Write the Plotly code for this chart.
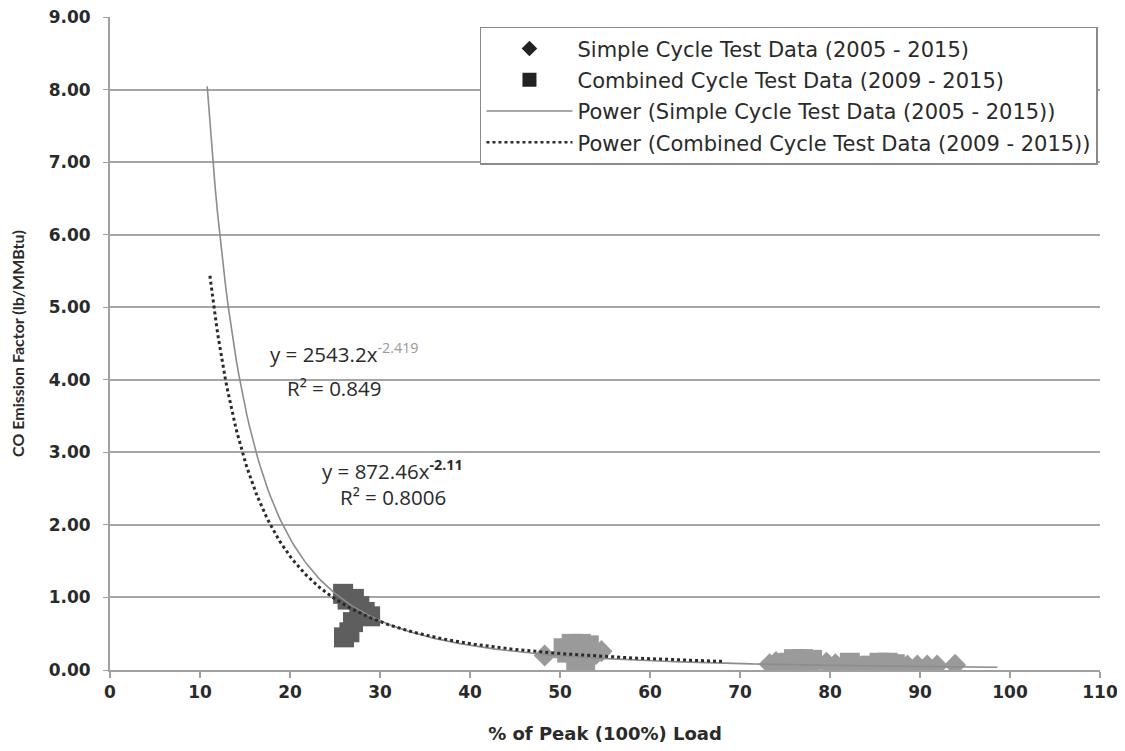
import numpy as np
import plotly.graph_objects as go

# ---- data ----
simple_x = [48.3, 54.0, 54.6, 73.3, 74.0, 74.6, 75.2, 79.6, 86.0, 87.6,
            88.6, 89.7, 90.8, 91.9, 93.9, 80.6]
simple_y = [0.20, 0.22, 0.26, 0.08, 0.11, 0.06, 0.12, 0.10, 0.05, 0.05,
            0.06, 0.06, 0.06, 0.06, 0.07, 0.08]

combined_x = [25.9, 26.4, 27.1, 27.7, 28.3, 28.9, 27.0, 26.0, 26.6,
              50.4, 51.3, 52.3, 53.2, 51.8, 52.8, 50.8,
              76.0, 77.0, 78.0, 76.6, 77.6, 75.4,
              82.2, 83.4, 84.5, 85.5, 86.4, 87.2]
combined_y = [1.05, 0.97, 0.98, 0.88, 0.80, 0.74, 0.66, 0.45, 0.52,
              0.30, 0.36, 0.36, 0.34, 0.12, 0.12, 0.24,
              0.15, 0.15, 0.14, 0.06, 0.06, 0.10,
              0.10, 0.05, 0.06, 0.10, 0.10, 0.08]
combined_dark = [True] * 9 + [False] * 19

# trendline equations shown in the chart: y = a * x^b, over the x span drawn
simple_fit = {"a": 2543.2, "b": -2.419, "x0": 10.8, "x1": 98.6}
combined_fit = {"a": 872.46, "b": -2.11, "x0": 11.1, "x1": 68.1}

legend_names = ["Simple Cycle Test Data (2005 - 2015)",
                "Combined Cycle Test Data (2009 - 2015)",
                "Power (Simple Cycle Test Data (2005 - 2015))",
                "Power (Combined Cycle Test Data (2009 - 2015))"]

x_ticks = list(range(0, 111, 10))
y_ticks = [i * 1.0 for i in range(0, 10)]

# ---- styles ----
LIGHT = "#9a9a9a"
DARK = "#5e5e5e"
TEXT = "#2a2a2a"
TICKFONT = dict(family="DejaVu Sans", size=17, color=TEXT, weight="bold")

def curve(fit):
    xs = np.linspace(fit["x0"], fit["x1"], 300)
    return xs, fit["a"] * xs ** fit["b"]

fig = go.Figure()

sx, sy = curve(simple_fit)
cx, cy = curve(combined_fit)

# data markers
fig.add_trace(go.Scatter(x=combined_x, y=combined_y, mode="markers",
                         marker=dict(symbol="square", size=20,
                                     color=[DARK if d else LIGHT for d in combined_dark]),
                         showlegend=False, hoverinfo="skip"))
fig.add_trace(go.Scatter(x=simple_x, y=simple_y, mode="markers",
                         marker=dict(symbol="diamond", size=17, color=LIGHT),
                         showlegend=False, hoverinfo="skip"))
# trendlines
fig.add_trace(go.Scatter(x=sx, y=sy, mode="lines",
                         line=dict(color="#8c8c8c", width=1.6),
                         showlegend=False, hoverinfo="skip"))
fig.add_trace(go.Scatter(x=cx, y=cy, mode="lines",
                         line=dict(color="#2b2b2b", width=3, dash="dot"),
                         showlegend=False, hoverinfo="skip"))

# legend entries
fig.add_trace(go.Scatter(x=[None], y=[None], mode="markers", name=legend_names[0],
                         legendgroup="a",
                         marker=dict(symbol="diamond", size=12, color="#222222")))
fig.add_trace(go.Scatter(x=[None], y=[None], mode="markers", name=legend_names[1],
                         legendgroup="b",
                         marker=dict(symbol="square", size=14, color="#222222")))
fig.add_trace(go.Scatter(x=[None], y=[None], mode="lines", name=legend_names[2],
                         legendgroup="c",
                         line=dict(color="#8c8c8c", width=1.6)))
fig.add_trace(go.Scatter(x=[None], y=[None], mode="lines", name=legend_names[3],
                         legendgroup="d",
                         line=dict(color="#2b2b2b", width=2.5, dash="dot")))

ann_font = dict(family="Open Sans", size=20.5, color=TEXT)
fig.add_annotation(x=17.6, y=4.37, xanchor="left", yanchor="middle", showarrow=False,
                   text="y = 2543.2x<sup><span style='color:#999999'>-2.419</span></sup>",
                   font=ann_font)
fig.add_annotation(x=19.4, y=3.88, xanchor="left", yanchor="middle", showarrow=False,
                   text="R² = 0.849", font=ann_font)
fig.add_annotation(x=23.3, y=2.75, xanchor="left", yanchor="middle", showarrow=False,
                   text="y = 872.46x<sup><b>-2.11</b></sup>", font=ann_font)
fig.add_annotation(x=25.3, y=2.38, xanchor="left", yanchor="middle", showarrow=False,
                   text="R² = 0.8006", font=ann_font)

fig.update_layout(
    width=1117, height=743,
    margin=dict(l=102, r=25, t=9, b=81),
    paper_bgcolor="white", plot_bgcolor="white",
    font=dict(family="Open Sans", color=TEXT),
    legend=dict(x=0.3737, y=0.985, xanchor="left", yanchor="top",
                bgcolor="white", bordercolor="#8a8a8a", borderwidth=1.5,
                font=dict(family="DejaVu Sans", size=21, color=TEXT),
                tracegroupgap=1, itemwidth=86),
)
fig.update_xaxes(range=[0, 110], tickvals=x_ticks, ticktext=[str(v) for v in x_ticks],
                 showgrid=False, zeroline=False, automargin=False,
                 showline=True, linecolor="#a0a0a0", linewidth=2,
                 ticks="outside", ticklen=6, tickcolor="#a0a0a0", tickwidth=2,
                 tickfont=TICKFONT, ticklabelstandoff=0, ticklabeloverflow="allow",
                 title=dict(text="<b>% of Peak (100%) Load</b>", standoff=26,
                            font=dict(family="DejaVu Sans", size=18, color=TEXT)))
fig.update_yaxes(range=[0, 9], tickvals=y_ticks, ticktext=[f"{v:.2f}" for v in y_ticks],
                 showgrid=True, gridcolor="#a6a6a6", gridwidth=2, zeroline=False,
                 automargin=False,
                 showline=True, linecolor="#a0a0a0", linewidth=2,
                 ticks="outside", ticklen=5, tickcolor="#a0a0a0", tickwidth=1,
                 tickfont=TICKFONT, ticklabelstandoff=9, ticklabeloverflow="allow",
                 title=dict(text="<b>CO Emission Factor (lb/MMBtu)</b>", standoff=20,
                            font=dict(family="Lato", size=16, color=TEXT)))

fig.write_html("out.html")
